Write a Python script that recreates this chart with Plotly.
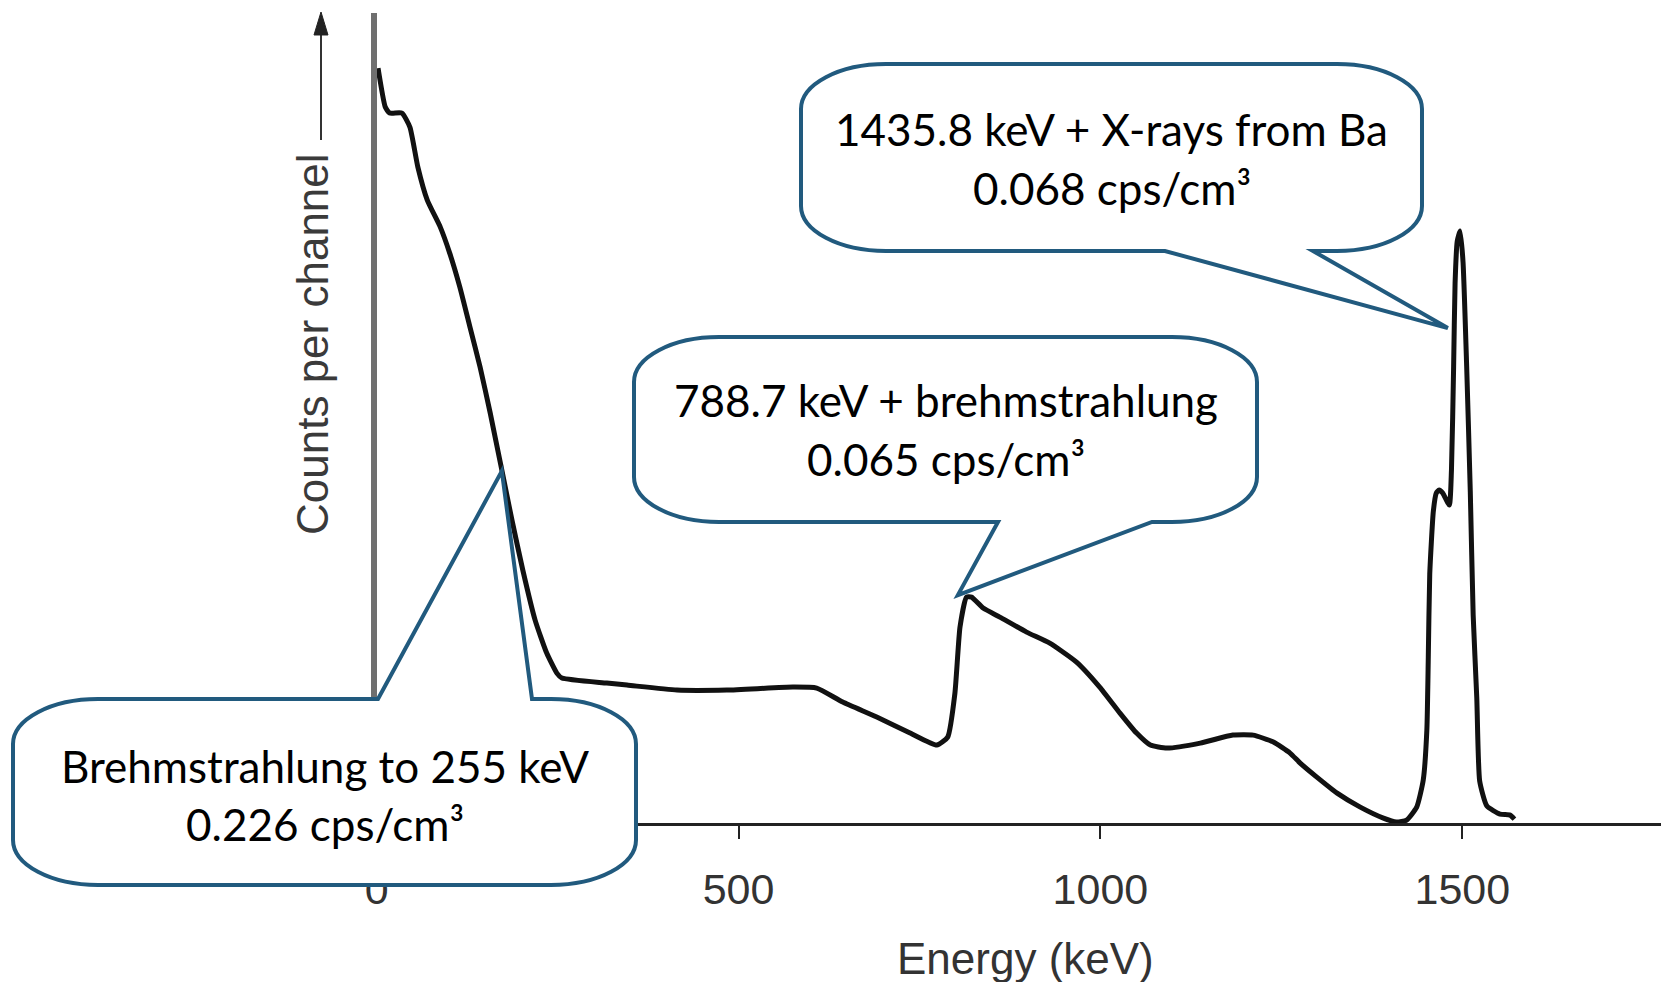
import plotly.graph_objects as go

W, H = 1661, 982

# Gamma-ray spectrum (arbitrary counts per channel vs energy in keV)
energy_kev = [2, 12, 18, 35, 46, 57, 70, 88, 101, 115, 129, 143, 157, 173, 187, 202,
              219, 235, 249, 256, 318, 346, 415, 484, 575, 608, 644, 691, 737, 774,
              789, 799, 806, 815, 822, 838, 861, 898, 930, 967, 999, 1027, 1050, 1069,
              1092, 1138, 1183, 1211, 1239, 1262, 1276, 1299, 1327, 1359, 1391, 1409,
              1423, 1437, 1446, 1451, 1453, 1455, 1460, 1464, 1468, 1473, 1482, 1485,
              1488, 1490, 1493, 1497, 1501, 1506, 1511, 1515, 1520, 1524, 1534, 1552,
              1566, 1572]
counts_per_channel = [755, 716, 710, 710, 696, 656, 623, 596, 570, 536, 496, 456, 410, 353,
                      303, 253, 203, 170, 150, 145, 140, 138, 133, 133, 136, 135, 121, 106,
                      90, 78, 86, 130, 196, 226, 226, 215, 206, 191, 180, 161, 136, 110, 90,
                      78, 75, 80, 88, 88, 81, 70, 60, 46, 30, 16, 5, 1, 3, 16, 43, 93, 166,
                      249, 312, 330, 333, 330, 318, 353, 457, 540, 582, 592, 561, 457, 332,
                      208, 125, 42, 17, 9, 8, 4]

tick_values = [0, 500, 1000, 1500]
tick_labels = ["0", "500", "1000", "1500"]

# Callout texts and the spectrum point each one points at (energy, counts)
callout_lines = [
    ["Brehmstrahlung to 255 keV", "0.226 cps/cm³"],
    ["788.7 keV + brehmstrahlung", "0.065 cps/cm³"],
    ["1435.8 keV + X-rays from Ba", "0.068 cps/cm³"],
]
callout_targets = [(173, 352), (803, 228), (1480, 495)]

X_RANGE = [0, 1774.5]
Y_RANGE = [0, 810.4]
X_DOMAIN = [376.6 / W, 1.0]
Y_DOMAIN = [1 - 823.1 / H, 1 - 12.7 / H]


def data_to_px(e, c):
    x0, x1 = X_DOMAIN[0] * W, X_DOMAIN[1] * W
    yb, yt = (1 - Y_DOMAIN[0]) * H, (1 - Y_DOMAIN[1]) * H
    px = x0 + (e - X_RANGE[0]) / (X_RANGE[1] - X_RANGE[0]) * (x1 - x0)
    py = yb - (c - Y_RANGE[0]) / (Y_RANGE[1] - Y_RANGE[0]) * (yb - yt)
    return px, py


def P(x, y):
    return f"{x / W:.5f},{1 - y / H:.5f}"


def callout_path(box, wedge, tip, rx=85, ry=45):
    """Rounded speech-bubble outline with a wedge on the top or bottom edge."""
    x0, y0, x1, y1 = box
    side, bx0, bx1 = wedge
    tx, ty = tip
    k = 0.5523
    d = f"M{P(x0 + rx, y0)}"
    if side == "top":
        d += f" L{P(bx0, y0)} L{P(tx, ty)} L{P(bx1, y0)}"
    d += f" L{P(x1 - rx, y0)}"
    d += f" C{P(x1 - rx + k * rx, y0)} {P(x1, y0 + ry - k * ry)} {P(x1, y0 + ry)}"
    d += f" L{P(x1, y1 - ry)}"
    d += f" C{P(x1, y1 - ry + k * ry)} {P(x1 - rx + k * rx, y1)} {P(x1 - rx, y1)}"
    if side == "bottom":
        d += f" L{P(bx1, y1)} L{P(tx, ty)} L{P(bx0, y1)}"
    d += f" L{P(x0 + rx, y1)}"
    d += f" C{P(x0 + rx - k * rx, y1)} {P(x0, y1 - ry + k * ry)} {P(x0, y1 - ry)}"
    d += f" L{P(x0, y0 + ry)}"
    d += f" C{P(x0, y0 + ry - k * ry)} {P(x0 + rx - k * rx, y0)} {P(x0 + rx, y0)} Z"
    return d


# bubble boxes (pixels) and wedge bases
callout_boxes = [
    ((13, 699, 636, 885), ("top", 378, 532)),
    ((634, 337, 1257, 522), ("bottom", 998, 1152)),
    ((801, 64, 1422, 251), ("bottom", 1165, 1313)),
]
text_rows = [(766, 824), (400, 459), (129, 188)]

fig = go.Figure()
fig.add_trace(go.Scatter(
    x=energy_kev, y=counts_per_channel, mode="lines",
    line=dict(color="#111111", width=5, shape="spline", smoothing=0.5),
    hoverinfo="skip", showlegend=False,
))

shapes = []
annotations = []
TXT_FONT = dict(family="Lato, Open Sans, sans-serif", size=44, color="#000000")
for (box, wedge), target, lines, rows in zip(callout_boxes, callout_targets,
                                              callout_lines, text_rows):
    tip = data_to_px(*target)
    shapes.append(dict(type="path", xref="paper", yref="paper", layer="above",
                       path=callout_path(box, wedge, tip),
                       fillcolor="#ffffff", line=dict(color="#215a7e", width=4)))
    cx = (box[0] + box[2]) / 2
    for txt, yy in zip(lines, rows):
        annotations.append(dict(text=txt, xref="paper", yref="paper",
                                x=cx / W, y=1 - yy / H, xanchor="center",
                                yanchor="middle", showarrow=False, font=TXT_FONT))

# arrow next to the y label
shapes.append(dict(type="line", xref="paper", yref="paper", layer="above",
                   x0=321 / W, x1=321 / W, y0=1 - 140 / H, y1=1 - 30 / H,
                   line=dict(color="#333333", width=2)))
shapes.append(dict(type="path", xref="paper", yref="paper", layer="above",
                   path=f"M{P(321, 12)} L{P(314, 35)} L{P(328, 35)} Z",
                   fillcolor="#222222", line=dict(color="#222222", width=1)))

AX_FONT = "Liberation Sans, Arial, sans-serif"
annotations.append(dict(text="Energy (keV)", xref="paper", yref="paper",
                        x=1025 / W, y=1 - 958 / H, xanchor="center", yanchor="middle",
                        showarrow=False, font=dict(family=AX_FONT, size=44, color="#333333")))
annotations.append(dict(text="Counts per channel", xref="paper", yref="paper",
                        x=312 / W, y=1 - 344 / H, xanchor="center", yanchor="middle",
                        textangle=-90, showarrow=False,
                        font=dict(family=AX_FONT, size=44, color="#3a3a3a")))

fig.update_layout(
    template="none",
    width=W, height=H,
    margin=dict(l=0, r=0, t=0, b=0, pad=0, autoexpand=False),
    paper_bgcolor="#ffffff", plot_bgcolor="#ffffff",
    xaxis=dict(domain=X_DOMAIN, range=X_RANGE, showgrid=False, zeroline=False,
               automargin=False,
               showline=True, linecolor="#222222", linewidth=3,
               ticks="outside", ticklen=13, tickwidth=2, tickcolor="#222222",
               tickvals=tick_values, ticktext=tick_labels, ticklabelstandoff=13,
               tickfont=dict(family=AX_FONT, size=43, color="#333333")),
    yaxis=dict(domain=Y_DOMAIN, range=Y_RANGE, showgrid=False, zeroline=False,
               automargin=False,
               showline=True, linecolor="#6f6f6f", linewidth=6,
               ticks="", showticklabels=False),
    shapes=shapes,
    annotations=annotations,
)

fig.write_html("out.html")
